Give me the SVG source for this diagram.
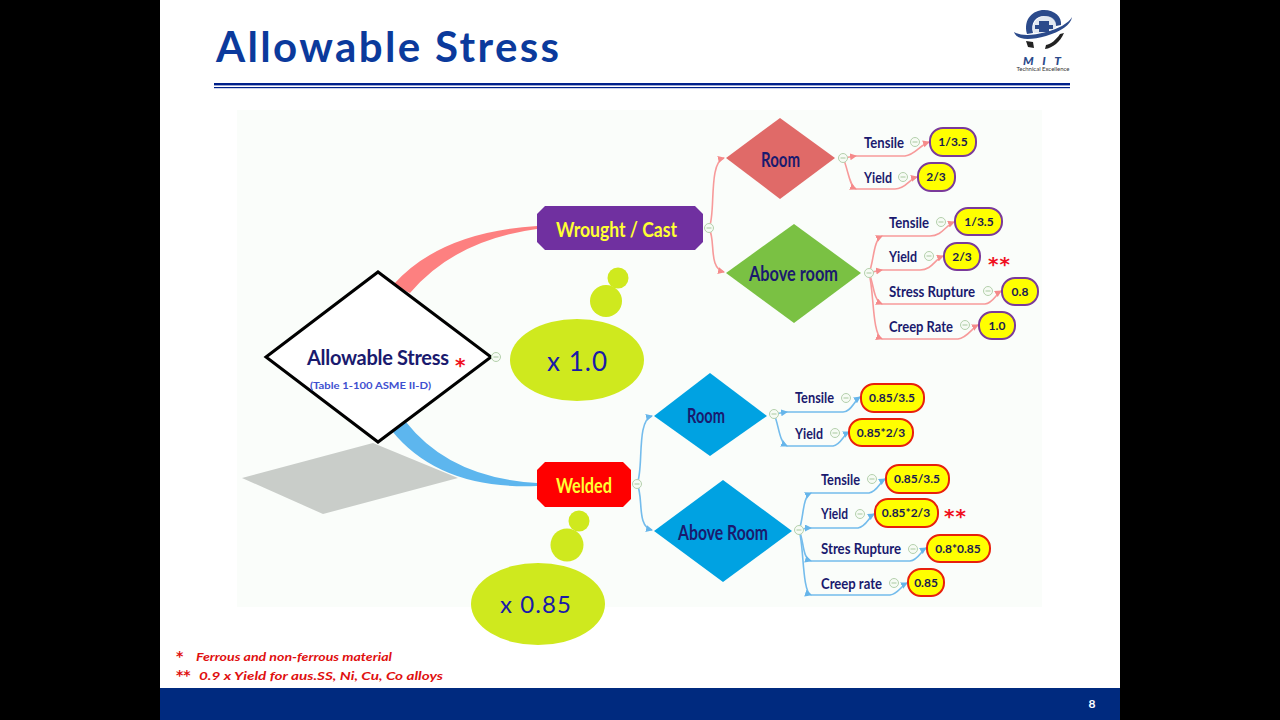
<svg xmlns="http://www.w3.org/2000/svg" width="1280" height="720" viewBox="0 0 1280 720">
<style>
text{font-family:"Lato","Liberation Sans",sans-serif}
.lbl{font-size:16px;font-weight:700;fill:#1a1a6e}
.val{font-size:12px;font-weight:700;fill:#1a1a50;text-anchor:middle}
.pr{fill:#ffff00;stroke:#7a3a9a;stroke-width:2}
.pb{fill:#ffff00;stroke:#e8200c;stroke-width:2}
.big{font-size:20px;font-weight:700;fill:#1a1a6e}
.ttl{font-size:21px;font-weight:700;fill:#ffff33}
.rc{fill:none;stroke:#f79a9a;stroke-width:1.6}
.bc{fill:none;stroke:#74bcec;stroke-width:1.6}
.ra{marker-end:url(#ar)}
.ba{marker-end:url(#ab)}
.m{fill:#f6fbf4;stroke:#b4d0ac;stroke-width:1}
.star{fill:#f01020;font-family:"DejaVu Sans",sans-serif;font-size:20px;font-weight:700}
.fn{fill:#e01010;font-size:12px;font-weight:700;font-style:italic}
.fs{fill:#e01010;font-family:"DejaVu Sans",sans-serif;font-size:14px;font-weight:700}
.eg{fill:#cfe91e}
.et{fill:#1a1aa8;font-size:26px}
</style>
<defs>
<marker id="ar" markerWidth="8" markerHeight="8" refX="6" refY="3.5" orient="auto" markerUnits="userSpaceOnUse"><path d="M0 0L7 3.5L0 7z" fill="#f58a8a"/></marker>
<marker id="ab" markerWidth="8" markerHeight="8" refX="6" refY="3.5" orient="auto" markerUnits="userSpaceOnUse"><path d="M0 0L7 3.5L0 7z" fill="#66b5ea"/></marker>
<g id="mn"><circle r="4.500" class="m"/><path d="M-2.500 0H2.500" stroke="#a9c9a0" stroke-width="1"/></g>
</defs>
<rect width="1280" height="720" fill="#000"/>
<rect x="160" width="960" height="720" fill="#fff"/>
<rect x="237" y="110" width="805" height="497" fill="#fafdfa"/>
<rect x="160" y="688" width="960" height="32" fill="#002a7f"/>
<text x="1092" y="708" fill="#fff" font-size="12" font-weight="700" text-anchor="middle">8</text>
<text x="216" y="62" font-size="42" font-weight="700" fill="#0b3a9c" textLength="343" lengthAdjust="spacing">Allowable Stress</text>
<rect x="214" y="83" width="856" height="2.400" fill="#00208a"/>
<rect x="214" y="87" width="856" height="1.200" fill="#00208a"/>

<g id="logo">
<path d="M1014 32C1017 41 1031 40 1046 36C1060 32 1071 25 1072 17C1069 23 1058 29 1046 32C1032 36 1020 36 1014 32Z" fill="#2b4a8b"/>
<path d="M1027 34C1023 19 1033 10 1044 10C1055 10 1062 17 1061 25L1056 26C1056 20 1051 16 1044 16C1036 16 1030 23 1033 33Z" fill="#2b4a8b"/>
<path d="M1046 16C1053 16 1057 21 1056 27C1052 31 1043 33 1034 33C1030 25 1037 16 1046 16Z" fill="#cfd8e8" opacity=".6"/>
<path d="M1035 25H1039V21H1049V25H1053V29H1049V32H1039V29H1035Z" fill="#2b4a8b"/>
<path d="M1045 49C1053 48 1060 42 1064 33L1060 34C1056 40 1051 44 1046 45Z" fill="#222"/>
<path d="M1026 41L1033 42L1034 48L1028 47Z" fill="#222"/>
<text x="1042" y="65" font-size="12" font-weight="900" font-style="italic" fill="#2b4a8b" text-anchor="middle" textLength="38" lengthAdjust="spacing">MIT</text>
<text x="1043" y="70.500" font-size="5" fill="#333" text-anchor="middle" textLength="53" lengthAdjust="spacingAndGlyphs">Technical Excellence</text>
</g>

<polygon points="242,478 373,443 458,478 323,514" fill="#c9cdc9"/>

<g id="connectors">
<path d="M393 285Q440 232 537 226V229Q455 240 410 293Z" fill="#fd8080"/>
<path d="M406 422Q450 478 537 483V486Q440 490 392 431Z" fill="#5db6ee"/>
<path class="rc ra" d="M709 228C716 215 708 162 724 158"/>
<path class="rc ra" d="M709 228C716 241 708 268 724 272"/>
<path class="rc ra" d="M843 158L856 156"/><path class="rc ra" d="M856 156H905C915 155 920 145 929 142"/>
<path class="rc ra" d="M843 158C848 168 849 186 856 189"/><path class="rc ra" d="M856 189H895C906 189 909 179 917 177"/>
<path class="rc ra" d="M869 273C874 262 873 240 882 236"/><path class="rc ra" d="M882 236H930C942 236 946 225 954 222"/>
<path class="rc ra" d="M869 273C872 272 876 271 882 270"/><path class="rc ra" d="M882 270H920C932 270 935 259 943 256"/>
<path class="rc ra" d="M869 273C874 284 873 300 882 304"/><path class="rc ra" d="M882 304H985C993 303 996 294 1001 291"/>
<path class="rc ra" d="M869 273C874 290 872 335 882 339"/><path class="rc ra" d="M882 339H958C967 338 972 328 978 325"/>
<path class="bc ba" d="M637 484C644 470 636 420 652 416"/>
<path class="bc ba" d="M637 484C644 497 636 526 652 530"/>
<path class="bc ba" d="M774 414L787 412"/><path class="bc ba" d="M787 412H843C851 412 854 401 860 397"/>
<path class="bc ba" d="M774 414C779 425 779 442 787 446"/><path class="bc ba" d="M787 446H833C841 445 843 435 849 432"/>
<path class="bc ba" d="M799 530C804 518 802 497 811 493"/><path class="bc ba" d="M811 493H869C877 492 880 482 885 479"/>
<path class="bc ba" d="M799 530C802 529 806 528 811 528"/><path class="bc ba" d="M811 528H858C866 527 869 517 874 514"/>
<path class="bc ba" d="M799 530C804 540 802 558 811 561"/><path class="bc ba" d="M811 561H910C918 560 921 551 926 548"/>
<path class="bc ba" d="M799 530C804 545 802 592 811 595"/><path class="bc ba" d="M811 595H890C898 594 901 586 907 583"/>
</g>

<g id="node-root">
<polygon points="266,357 378,272 491,357 378,442" fill="#fff" stroke="#000" stroke-width="3"/>
<text x="307" y="365" class="big" textLength="142" lengthAdjust="spacing">Allowable Stress</text>
<text x="455" y="372" class="star">*</text>
<text x="310" y="389" font-size="10" font-weight="700" fill="#4050d0" textLength="121" lengthAdjust="spacingAndGlyphs">(Table 1-100 ASME II-D)</text>
<use href="#mn" x="496" y="357"/>
</g>

<g id="node-wrought">
<polygon points="545,206 695,206 703,214 703,242 695,250 545,250 537,242 537,214" fill="#7030a0"/>
<text x="556" y="237" class="ttl" textLength="121" lengthAdjust="spacingAndGlyphs">Wrought / Cast</text>
<use href="#mn" x="709" y="228"/>
</g>
<g id="node-welded">
<polygon points="545,462 623,462 631,470 631,499 623,507 545,507 537,499 537,470" fill="#ff0000"/>
<text x="556" y="493" class="ttl" textLength="56" lengthAdjust="spacingAndGlyphs">Welded</text>
<use href="#mn" x="637" y="484"/>
</g>

<g id="note-10">
<circle cx="618" cy="278" r="10.500" class="eg"/><circle cx="606" cy="301" r="16" class="eg"/>
<ellipse cx="577" cy="360" rx="67" ry="41" class="eg"/>
<text x="547" y="371" class="et" textLength="60">x 1.0</text>
</g>
<g id="note-085">
<circle cx="579" cy="521" r="10.500" class="eg"/><circle cx="567" cy="545" r="16.500" class="eg"/>
<ellipse cx="538" cy="604" rx="67" ry="41" class="eg"/>
<text x="500" y="613" class="et" style="font-size:24px" textLength="71">x 0.85</text>
</g>

<g id="node-room-1">
<polygon points="726,158 780,118 835,158 780,199" fill="#e06a68"/>
<text x="761" y="167" class="big" textLength="39" lengthAdjust="spacingAndGlyphs">Room</text>
<use href="#mn" x="843" y="158"/>
</g>
<g id="node-above-1">
<polygon points="726,273 794,224 861,273 794,323" fill="#7ac143"/>
<text x="749" y="281" class="big" textLength="89" lengthAdjust="spacingAndGlyphs">Above room</text>
<use href="#mn" x="869" y="273"/>
</g>
<g id="node-room-2">
<polygon points="654,416 710,373 767,416 710,456" fill="#00a2e2"/>
<text x="687" y="423" class="big" textLength="38" lengthAdjust="spacingAndGlyphs">Room</text>
<use href="#mn" x="774" y="414"/>
</g>
<g id="node-above-2">
<polygon points="654,531 723,480 792,531 723,582" fill="#00a2e2"/>
<text x="678" y="540" class="big" textLength="90" lengthAdjust="spacingAndGlyphs">Above Room</text>
<use href="#mn" x="799" y="530"/>
</g>

<g id="leaf-r1"><text x="864" y="148" class="lbl" textLength="40" lengthAdjust="spacingAndGlyphs">Tensile</text><use href="#mn" x="915" y="142"/><rect x="930" y="128" width="46" height="28" rx="13" class="pr"/><text x="953" y="146" class="val">1/3.5</text></g>
<g id="leaf-r2"><text x="864" y="183" class="lbl" textLength="28" lengthAdjust="spacingAndGlyphs">Yield</text><use href="#mn" x="903" y="177"/><rect x="918" y="163" width="37" height="28" rx="13" class="pr"/><text x="936" y="181" class="val">2/3</text></g>
<g id="leaf-a1"><text x="889" y="228" class="lbl" textLength="40" lengthAdjust="spacingAndGlyphs">Tensile</text><use href="#mn" x="941" y="222"/><rect x="955" y="208" width="47" height="27" rx="13" class="pr"/><text x="979" y="226" class="val">1/3.5</text></g>
<g id="leaf-a2"><text x="889" y="262" class="lbl" textLength="28" lengthAdjust="spacingAndGlyphs">Yield</text><use href="#mn" x="929" y="256"/><rect x="944" y="243" width="36" height="27" rx="13" class="pr"/><text x="962" y="261" class="val">2/3</text><text x="988" y="271" class="star" textLength="22">**</text></g>
<g id="leaf-a3"><text x="889" y="297" class="lbl" textLength="86" lengthAdjust="spacingAndGlyphs">Stress Rupture</text><use href="#mn" x="988" y="291"/><rect x="1002" y="278" width="36" height="27" rx="13" class="pr"/><text x="1020" y="296" class="val">0.8</text></g>
<g id="leaf-a4"><text x="889" y="332" class="lbl" textLength="64" lengthAdjust="spacingAndGlyphs">Creep Rate</text><use href="#mn" x="965" y="325"/><rect x="979" y="312" width="36" height="27" rx="13" class="pr"/><text x="997" y="330" class="val">1.0</text></g>

<g id="leaf-w1"><text x="795" y="403" class="lbl" textLength="39" lengthAdjust="spacingAndGlyphs">Tensile</text><use href="#mn" x="846" y="398"/><rect x="861" y="384" width="63" height="28" rx="13" class="pb"/><text x="892" y="402" class="val">0.85/3.5</text></g>
<g id="leaf-w2"><text x="795" y="439" class="lbl" textLength="28" lengthAdjust="spacingAndGlyphs">Yield</text><use href="#mn" x="835" y="433"/><rect x="849" y="419" width="64" height="27" rx="13" class="pb"/><text x="881" y="437" class="val">0.85*2/3</text></g>
<g id="leaf-b1"><text x="821" y="485" class="lbl" textLength="39" lengthAdjust="spacingAndGlyphs">Tensile</text><use href="#mn" x="872" y="479"/><rect x="886" y="465" width="63" height="28" rx="13" class="pb"/><text x="917" y="483" class="val">0.85/3.5</text></g>
<g id="leaf-b2"><text x="821" y="519" class="lbl" textLength="27" lengthAdjust="spacingAndGlyphs">Yield</text><use href="#mn" x="860" y="514"/><rect x="875" y="499" width="63" height="28" rx="13" class="pb"/><text x="906" y="517" class="val">0.85*2/3</text><text x="944" y="523" class="star" textLength="22">**</text></g>
<g id="leaf-b3"><text x="821" y="554" class="lbl" textLength="80" lengthAdjust="spacingAndGlyphs">Stres Rupture</text><use href="#mn" x="913" y="549"/><rect x="927" y="535" width="63" height="27" rx="13" class="pb"/><text x="958" y="553" class="val">0.8*0.85</text></g>
<g id="leaf-b4"><text x="821" y="589" class="lbl" textLength="61" lengthAdjust="spacingAndGlyphs">Creep rate</text><use href="#mn" x="894" y="583"/><rect x="908" y="569" width="36" height="27" rx="13" class="pb"/><text x="926" y="587" class="val">0.85</text></g>

<g id="footnotes">
<text x="176" y="661" class="fs">*</text>
<text x="196" y="661" class="fn" textLength="196" lengthAdjust="spacingAndGlyphs">Ferrous and non-ferrous material</text>
<text x="176" y="680" class="fs">**</text>
<text x="199" y="680" class="fn" textLength="244" lengthAdjust="spacingAndGlyphs">0.9 x Yield for aus.SS, Ni, Cu, Co alloys</text>
</g>
</svg>
